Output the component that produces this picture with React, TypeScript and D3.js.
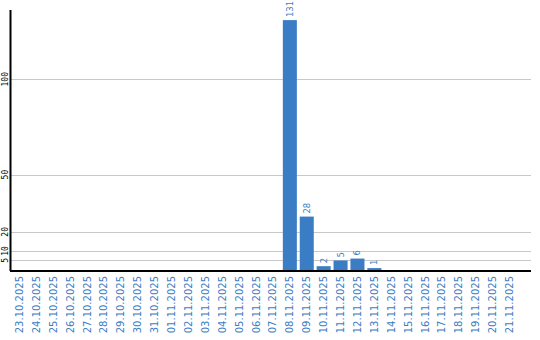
import React from "react";
import * as d3 from "d3";

const categories = [
  "23.10.2025","24.10.2025","25.10.2025","26.10.2025","27.10.2025","28.10.2025",
  "29.10.2025","30.10.2025","31.10.2025","01.11.2025","02.11.2025","03.11.2025",
  "04.11.2025","05.11.2025","06.11.2025","07.11.2025","08.11.2025","09.11.2025",
  "10.11.2025","11.11.2025","12.11.2025","13.11.2025","14.11.2025","15.11.2025",
  "16.11.2025","17.11.2025","18.11.2025","19.11.2025","20.11.2025","21.11.2025",
];
const values = [0,0,0,0,0,0,0,0,0,0,0,0,0,0,0,0,131,28,2,5,6,1,0,0,0,0,0,0,0,0];
const yTicks = [5, 10, 20, 50, 100];

const W = 540, H = 340;
const left = 11, right = 531, top = 10, bottom = 270;
const blue = "#3b7dc4";

export default function App() {
  const x = d3.scaleBand<string>().domain(categories).range([left, 518]).paddingInner(0.17).paddingOuter(0.085);
  const y = d3.scaleLinear().domain([0, 136.3]).range([bottom, top]);
  return (
    <svg width={W} height={H} style={{ position: "absolute", left: 0, top: 0 }}>
      {yTicks.map((t) => (
        <line key={"g" + t} x1={left} x2={right} y1={Math.round(y(t)) + 0.5} y2={Math.round(y(t)) + 0.5} stroke="#c8c8c8" strokeWidth={1} />
      ))}
      {yTicks.map((t) => (
        <text key={"t" + t} transform={`translate(7.5,${y(t)}) rotate(-90)`} textAnchor="middle"
          fontFamily="DejaVu Sans Mono" fontSize={8} fill="#000">{t}</text>
      ))}
      {values.map((v, i) => v > 0 ? (
        <rect key={"b" + i} x={x(categories[i])!} y={y(v)} width={x.bandwidth()} height={bottom - y(v)} fill={blue} />
      ) : null)}
      {values.map((v, i) => v > 0 ? (
        <text key={"v" + i} transform={`translate(${x(categories[i])! + x.bandwidth() / 2},${y(v) - 3}) rotate(-90)`}
          dy="0.35em" textAnchor="start" fontFamily="DejaVu Sans" fontSize={8.5} fill={blue}>{v}</text>
      ) : null)}
      <line x1={10.5} x2={10.5} y1={top} y2={bottom + 1} stroke="#000" strokeWidth={2} />
      <line x1={10} x2={right} y1={bottom + 1} y2={bottom + 1} stroke="#000" strokeWidth={2} />
      {categories.map((c) => (
        <text key={"x" + c} transform={`translate(${x(c)! + x.bandwidth() / 2},276) rotate(-90)`}
          dy="0.35em" textAnchor="end" fontFamily="DejaVu Sans" fontSize={10} fill={blue}>{c}</text>
      ))}
    </svg>
  );
}
